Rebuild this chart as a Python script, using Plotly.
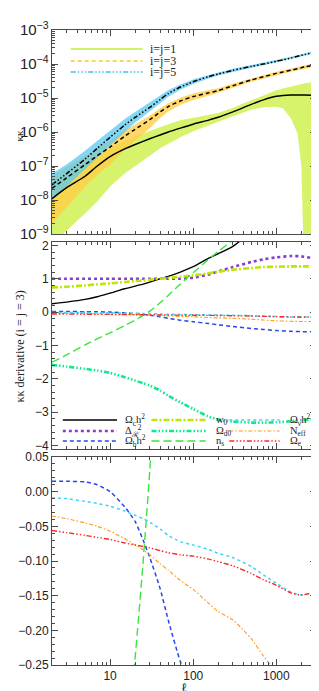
import math
import plotly.graph_objects as go

# ---------------- data: panel 1 (auto spectra kappa-kappa) ----------------
ell1 = [2, 3, 5, 7, 10, 15, 20, 30, 40, 50, 70, 100, 150, 200, 300, 500, 700,
        1000, 1200, 1500, 1800, 2000, 2200, 3000]

kk11 = [1.1e-8, 2.3e-8, 5e-8, 1e-7, 1.9e-7, 3.2e-7, 4.3e-7, 6.3e-7, 8.2e-7, 1.0e-6, 1.3e-6,
        1.7e-6, 2.2e-6, 2.7e-6, 3.9e-6, 6.5e-6, 8.8e-6, 1.12e-5, 1.18e-5, 1.22e-5,
        1.23e-5, 1.23e-5, 1.22e-5, 1.2e-5]
lo11 = [5e-10, 1.2e-9, 4e-9, 9e-9, 2.5e-8, 6e-8, 1.0e-7, 2e-7, 3.3e-7, 4.5e-7, 7e-7,
        1.05e-6, 1.6e-6, 2.0e-6, 2.9e-6, 4.5e-6, 5.3e-6, 5.5e-6, 5e-6, 2.5e-6,
        9e-7, 1e-7, 1e-11, 1e-11]
hi11 = [3.5e-8, 6e-8, 1.2e-7, 2e-7, 3.3e-7, 5.5e-7, 7.5e-7, 1.1e-6, 1.4e-6, 1.7e-6, 2.2e-6,
        2.6e-6, 3.1e-6, 3.6e-6, 5.2e-6, 8.5e-6, 1.2e-5, 1.7e-5, 1.9e-5, 2.2e-5,
        2.45e-5, 2.6e-5, 2.7e-5, 3e-5]

kk33 = [2.2e-8, 4.5e-8, 1.1e-7, 2e-7, 3.6e-7, 7.5e-7, 1.2e-6, 2.3e-6, 3.9e-6, 5.6e-6, 8.2e-6,
        1.1e-5, 1.4e-5, 1.65e-5, 2.3e-5, 3.4e-5, 4.2e-5, 5.3e-5, 5.8e-5, 6.6e-5,
        7.3e-5, 7.8e-5, 8.2e-5, 9.5e-5]
lo33 = [2e-9, 6e-9, 2.5e-8, 5.5e-8, 1.1e-7, 3e-7, 5.5e-7, 1.3e-6, 2.6e-6, 4e-6, 6.3e-6,
        8.8e-6, 1.15e-5, 1.4e-5, 2e-5, 3e-5, 3.7e-5, 4.7e-5, 5.2e-5, 5.9e-5,
        6.5e-5, 6.9e-5, 7.3e-5, 8.3e-5]
hi33 = [5e-8, 9e-8, 2e-7, 3.3e-7, 5.5e-7, 1.1e-6, 1.7e-6, 3e-6, 5e-6, 7e-6, 1.02e-5,
        1.35e-5, 1.7e-5, 1.95e-5, 2.65e-5, 3.8e-5, 4.7e-5, 5.9e-5, 6.5e-5, 7.4e-5,
        8.2e-5, 8.7e-5, 9.2e-5, 1.08e-4]

kk55 = [2.8e-8, 6e-8, 1.6e-7, 3.3e-7, 7e-7, 1.6e-6, 2.7e-6, 5.3e-6, 9e-6, 1.35e-5, 2.1e-5,
        3.0e-5, 4.2e-5, 5.1e-5, 6.5e-5, 8.5e-5, 1e-4, 1.2e-4, 1.32e-4, 1.5e-4,
        1.68e-4, 1.8e-4, 1.9e-4, 2.3e-4]
lo55 = [1e-8, 2.5e-8, 8e-8, 1.8e-7, 4e-7, 1e-6, 1.9e-6, 4e-6, 7e-6, 1.08e-5, 1.75e-5,
        2.6e-5, 3.7e-5, 4.6e-5, 5.9e-5, 7.8e-5, 9.2e-5, 1.1e-4, 1.21e-4, 1.38e-4,
        1.55e-4, 1.65e-4, 1.75e-4, 2.1e-4]
hi55 = [6e-8, 1.1e-7, 2.8e-7, 5.5e-7, 1.1e-6, 2.4e-6, 3.9e-6, 7.3e-6, 1.15e-5, 1.7e-5, 2.5e-5,
        3.5e-5, 4.7e-5, 5.7e-5, 7.2e-5, 9.3e-5, 1.09e-4, 1.3e-4, 1.43e-4, 1.63e-4,
        1.82e-4, 1.95e-4, 2.05e-4, 2.5e-4]

auto_labels = ["i=j=1", "i=j=3", "i=j=5"]

# ---------------- data: panels 2 & 3 (derivatives, i=j=3) ----------------
ell2 = [2, 3, 5, 7, 10, 15, 20, 25, 30, 40, 50, 70, 100, 150, 200, 300, 500, 700,
        1000, 1500, 2000, 3000]

d_och2 = [0.25, 0.3, 0.38, 0.46, 0.57, 0.7, 0.78, 0.84, 0.9, 1.0, 1.07, 1.2, 1.36,
          1.6, 1.75, 1.97, 2.4, 2.7, 3.0, 3.3, 3.5, 3.7]
d_as = [1.0, 1.0, 1.0, 1.0, 1.0, 1.0, 1.0, 1.0, 1.0, 1.0, 1.0, 1.0, 1.03, 1.12,
        1.22, 1.35, 1.5, 1.58, 1.64, 1.68, 1.67, 1.6]
d_obh2 = [0.015, 0.015, 0.014, 0.01, 0.0, -0.022, -0.043, -0.07, -0.095, -0.14,
          -0.185, -0.245, -0.29, -0.34, -0.38, -0.43, -0.49, -0.52, -0.55, -0.575,
          -0.585, -0.59]
d_w0 = [0.74, 0.76, 0.8, 0.83, 0.86, 0.9, 0.93, 0.95, 0.97, 1.0, 1.02, 1.06, 1.1,
        1.16, 1.21, 1.27, 1.32, 1.35, 1.36, 1.37, 1.37, 1.37]
d_od0 = [-1.58, -1.63, -1.7, -1.75, -1.82, -1.95, -2.05, -2.13, -2.2, -2.35, -2.5,
         -2.7, -2.9, -3.12, -3.22, -3.28, -3.31, -3.31, -3.3, -3.27, -3.24, -3.2]
d_ns = [-1.5, -1.28, -0.98, -0.8, -0.62, -0.4, -0.24, -0.1, 0.03, 0.28, 0.5, 0.84,
        1.18, 1.56, 1.82, 2.15, 2.6, 2.9, 3.2, 3.5, 3.7, 3.9]
d_onh2 = [-0.009, -0.01, -0.014, -0.017, -0.021, -0.028, -0.034, -0.039, -0.044,
          -0.054, -0.063, -0.072, -0.077, -0.083, -0.089, -0.095, -0.108, -0.12,
          -0.132, -0.145, -0.149, -0.145]
d_neff = [-0.035, -0.039, -0.045, -0.05, -0.057, -0.068, -0.077, -0.084, -0.091,
          -0.104, -0.113, -0.128, -0.141, -0.16, -0.173, -0.185, -0.212, -0.237,
          -0.26, -0.275, -0.28, -0.28]
d_oe = [-0.056, -0.059, -0.063, -0.066, -0.069, -0.074, -0.077, -0.079, -0.081,
        -0.085, -0.088, -0.091, -0.093, -0.097, -0.101, -0.107, -0.118, -0.127,
        -0.135, -0.146, -0.149, -0.145]

param_labels = ["Ω<sub>c</sub>h<sup>2</sup>", "Δ<sub>ℛ</sub><sup>2</sup>", "Ω<sub>b</sub>h<sup>2</sup>",
                "w<sub>0</sub>", "Ω<sub>d0</sub>", "n<sub>s</sub>",
                "Ω<sub>ν</sub>h<sup>2</sup>", "N<sub>eff</sub>", "Ω<sub>e</sub>"]
param_values = [d_och2, d_as, d_obh2, d_w0, d_od0, d_ns, d_onh2, d_neff, d_oe]

# ---------------- styles ----------------
W, H = 319, 691
ML, MR, MT, MB = 41, 10, 22, 34
PW, PH = W - ML - MR, H - MT - MB
AX = "#4a4a4a"
SANS = "Liberation Sans, Arial, sans-serif"
SERIF = "Liberation Serif, Times New Roman, serif"

DDD = "5px,2px,1.5px,2px,1.5px,2px,1.5px,2px"
auto_styles = [
    dict(band="rgba(205,240,70,0.80)", key="#c4ee3a", line="black", dash="solid", kdash="solid"),
    dict(band="rgba(255,205,70,0.80)", key="#ffc52a", line="black", dash="4px,3px", kdash="4px,3px"),
    dict(band="rgba(90,200,240,0.75)", key="#3ec0f2", line="black", dash=DDD, kdash=DDD),
]
param_styles = [
    dict(color="black", dash="solid", width=1.4),
    dict(color="#8a3ccf", dash="dot", width=2.6),
    dict(color="#2448f0", dash="4px,3px", width=1.5),
    dict(color="#bfe600", dash="6px,2px,2px,2px", width=2.6),
    dict(color="#10e890", dash=DDD, width=2.6),
    dict(color="#3ce43c", dash="8px,4px", width=1.4),
    dict(color="#40d4f4", dash="dot", width=1.5),
    dict(color="#ff9a10", dash="4px,2px,1.5px,2px", width=1.1),
    dict(color="#ff2828", dash=DDD, width=1.4),
]


def px_x(px):
    return (px - ML) / PW


def px_y(py):
    return (H - MB - py) / PH


fig = go.Figure()

# panel 1 bands and curves
bands = [(lo11, hi11), (lo33, hi33), (lo55, hi55)]
centers = [kk11, kk33, kk55]
for (lo, hi), st in zip(bands, auto_styles):
    fig.add_trace(go.Scatter(x=ell1 + ell1[::-1], y=hi + lo[::-1], fill="toself",
                             fillcolor=st["band"], line=dict(width=0), mode="lines",
                             hoverinfo="skip", showlegend=False, xaxis="x", yaxis="y"))
for c, st in zip(centers, auto_styles):
    fig.add_trace(go.Scatter(x=ell1, y=c, mode="lines",
                             line=dict(color=st["line"], dash=st["dash"], width=1.5, shape="spline", smoothing=0.6),
                             showlegend=False, xaxis="x", yaxis="y"))

# panels 2 and 3
for vals, st in zip(param_values, param_styles):
    for xa, ya in (("x2", "y2"), ("x3", "y3")):
        fig.add_trace(go.Scatter(x=ell2, y=vals, mode="lines",
                                 line=dict(color=st["color"], dash=st["dash"], width=st["width"],
                                           shape="spline", smoothing=0.6),
                                 showlegend=False, xaxis=xa, yaxis=ya, cliponaxis=True))

# ---------------- legends (keys + text) ----------------
shapes = []
annotations = []
key_rows1 = [41, 53, 64]
for lab, st, ry in zip(auto_labels, auto_styles, key_rows1):
    shapes.append(dict(type="line", xref="paper", yref="paper", x0=px_x(60), x1=px_x(133),
                       y0=px_y(ry), y1=px_y(ry), line=dict(color=st["key"], width=1.3, dash=st["kdash"])))
    annotations.append(dict(text=lab, xref="paper", yref="paper", x=px_x(138), y=px_y(ry),
                            xanchor="left", yanchor="middle", showarrow=False,
                            font=dict(family=SERIF, size=12, color="#222")))

col_lines = [(52, 107, 113), (142, 197, 205), (221, 272, 281)]
rows2 = [412, 423, 433]
for i, (lab, st) in enumerate(zip(param_labels, param_styles)):
    c, r = divmod(i, 3)
    x0, x1, xt = col_lines[c]
    ry = rows2[r]
    shapes.append(dict(type="line", xref="paper", yref="paper", x0=px_x(x0), x1=px_x(x1),
                       y0=px_y(ry), y1=px_y(ry),
                       line=dict(color=st["color"], width=st["width"], dash=st["dash"])))
    annotations.append(dict(text=lab, xref="paper", yref="paper", x=px_x(xt), y=px_y(ry),
                            xanchor="left", yanchor="middle", showarrow=False,
                            font=dict(family=SERIF, size=10.5, color="#222")))

# axis titles
annotations.append(dict(text="κκ", xref="paper", yref="paper", x=px_x(7), y=px_y(128),
                        textangle=-90, showarrow=False, xanchor="center", yanchor="middle",
                        font=dict(family=SERIF, size=11, color="#222")))
annotations.append(dict(text="κκ derivative (i = j = 3)", xref="paper", yref="paper", x=px_x(9),
                        y=px_y(338), textangle=-90, showarrow=False, xanchor="center",
                        yanchor="middle", font=dict(family=SERIF, size=12, color="#222")))
annotations.append(dict(text="ℓ", xref="paper", yref="paper", x=px_x(175), y=px_y(679),
                        showarrow=False, xanchor="center", yanchor="middle",
                        font=dict(family="DejaVu Serif, serif", size=13, color="#222")))

# ---------------- axes ----------------
xr = [math.log10(2), math.log10(3000)]
xcommon = dict(type="log", range=xr, showline=True, linecolor=AX, linewidth=1, mirror="allticks",
               ticks="inside", ticklen=6, tickcolor=AX, dtick=1, showgrid=False, zeroline=False,
               minor=dict(ticks="inside", ticklen=3, tickcolor=AX, showgrid=False),
               exponentformat="none", tickfont=dict(family=SANS, size=12, color="#222"))
ycommon = dict(showline=True, linecolor=AX, linewidth=1, mirror="allticks", ticks="inside",
               ticklen=6, tickcolor=AX, showgrid=False, zeroline=False,
               tickfont=dict(family=SANS, size=12, color="#222"))

d1 = [px_y(226), px_y(22)]
d2 = [px_y(441), px_y(234)]
d3 = [px_y(657), px_y(449)]

fig.update_layout(
    width=W, height=H, margin=dict(l=ML, r=MR, t=MT, b=MB),
    paper_bgcolor="white", plot_bgcolor="white", showlegend=False,
    xaxis=dict(xcommon, anchor="y", domain=[0, 1], showticklabels=False),
    xaxis2=dict(xcommon, anchor="y2", domain=[0, 1], showticklabels=False, matches="x"),
    xaxis3=dict(xcommon, anchor="y3", domain=[0, 1], showticklabels=True, matches="x"),
    yaxis=dict(ycommon, type="log", domain=d1, range=[-9, -3], dtick=1, exponentformat="power",
               showexponent="all", minor=dict(ticks="inside", ticklen=3, tickcolor=AX, showgrid=False)),
    yaxis2=dict(ycommon, domain=d2, range=[-4.1, 2.1], dtick=1, tick0=0,
                minor=dict(ticks="inside", ticklen=3, tickcolor=AX, dtick=0.2, showgrid=False)),
    yaxis3=dict(ycommon, domain=d3, range=[-0.25, 0.05], dtick=0.05, tick0=0, tickformat=".2f",
                minor=dict(ticks="inside", ticklen=3, tickcolor=AX, dtick=0.01, showgrid=False)),
    shapes=shapes, annotations=annotations,
)

fig.write_html("out.html")
